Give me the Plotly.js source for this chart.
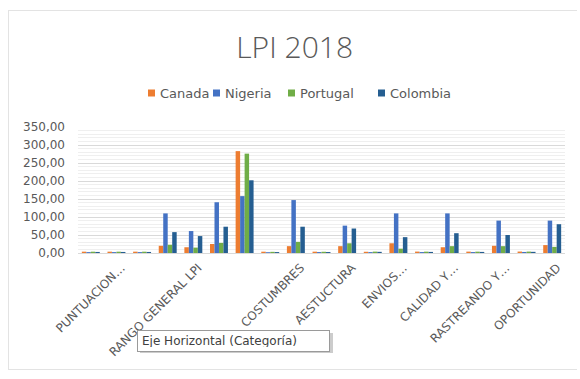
<!DOCTYPE html>
<html>
<head>
<meta charset="utf-8">
<script src="https://cdn.plot.ly/plotly-3.0.1.min.js"></script>
<style>
  html, body { margin: 0; padding: 0; background: #ffffff; }
  #wrap { position: relative; width: 580px; height: 379px; }
  #frame { position: absolute; left: 8px; top: 10px; width: 569px; height: 360px;
           border: 1px solid #e3e3e3; border-right: none; box-sizing: border-box; }
  #chart { position: absolute; left: 0; top: 0; width: 580px; height: 379px; }
</style>
</head>
<body>
<div id="wrap">
  <div id="frame"></div>
  <div id="chart"></div>
</div>
<script>
// Indicators of the LPI 2018 workbook (scores and ranks, in sheet order)
const categorias = [
  "Año", "Puntuación LPI", "Puntuación general", "Rango LPI", "Rango general LPI",
  "Rango aduanas", "Rango total", "Puntuación costumbres", "Costumbres",
  "Puntuación infraestructura", "Infraestructura", "Puntuación envíos",
  "Envíos internacionales", "Puntuación calidad", "Calidad y competencia",
  "Puntuación rastreo", "Rastreando y localizando", "Puntuación oportunidad", "Oportunidad"
];

// Labels printed under the axis ("" = category without a printed label)
const etiquetas = [
  "", "PUNTUACION…", "", "", "RANGO GENERAL LPI",
  "", "", "", "COSTUMBRES",
  "", "AESTUCTURA", "",
  "ENVIOS…", "", "CALIDAD Y…",
  "", "RASTREANDO Y…", "", "OPORTUNIDAD"
];

const canada   = [3.7, 3.7, 3.7, 20, 16, 25, 283, 3.6, 19, 3.7, 19, 3.4, 27, 3.9, 16, 3.8, 20, 4.0, 22];
const nigeria  = [2.5, 2.5, 2.5, 110, 61, 141, 158, 2.2, 147, 2.6, 76, 2.5, 110, 2.6, 110, 2.6, 90, 2.9, 90];
const portugal = [3.6, 3.6, 3.6, 23, 15, 28, 276, 3.2, 31, 3.4, 27, 3.8, 12, 3.7, 19, 3.7, 19, 3.9, 17];
const colombia = [2.9, 2.9, 2.9, 58, 47, 73, 202, 2.6, 73, 2.7, 68, 3.2, 44, 3.0, 55, 3.0, 50, 3.2, 80];

const paises  = ["Canada", "Nigeria", "Portugal", "Colombia"];
const series  = [canada, nigeria, portugal, colombia];
const colores = ["#ED7D31", "#4472C4", "#70AD47", "#255E91"];

// page geometry (pixels) and conversion to paper coordinates
const W = 580, H = 379;
const M = { l: 78, r: 15, t: 127, b: 126 };
const px2x = px => (px - M.l) / (W - M.l - M.r);
const px2y = py => (H - M.b - py) / (H - M.t - M.b);

const FONT = "DejaVu Sans, Open Sans, sans-serif";
const GRIS = "#595959";

const traces = series.map((vals, i) => ({
  type: "bar",
  name: paises[i],
  x: categorias,
  y: vals,
  marker: { color: colores[i] },
  hoverinfo: "x+y+name"
}));

// legend row: small square swatch + country name
const legendSwatchLeft = [148, 213, 288, 378];
const legendTextLeft   = [158, 223, 298, 388];
const legendMidY = 93;

const shapes = [];
const annotations = [];

paises.forEach((p, i) => {
  shapes.push({
    type: "rect", xref: "paper", yref: "paper", layer: "above",
    x0: px2x(legendSwatchLeft[i]), x1: px2x(legendSwatchLeft[i] + 7),
    y0: px2y(legendMidY + 3.5), y1: px2y(legendMidY - 3.5),
    fillcolor: colores[i], line: { width: 0 }
  });
  annotations.push({
    text: p, xref: "paper", yref: "paper",
    x: px2x(legendTextLeft[i]), y: px2y(legendMidY),
    xanchor: "left", yanchor: "middle", showarrow: false,
    font: { family: FONT, size: 13, color: GRIS }
  });
});

// axis tooltip with its drop shadow
shapes.push({
  type: "rect", xref: "paper", yref: "paper", layer: "above",
  x0: px2x(140), x1: px2x(333), y0: px2y(353), y1: px2y(333),
  fillcolor: "rgba(0,0,0,0.2)", line: { width: 0 }
});
annotations.push({
  text: "Eje Horizontal (Categoría)",
  xref: "paper", yref: "paper",
  x: px2x(137), y: px2y(330),
  xanchor: "left", yanchor: "top",
  width: 183, height: 12,
  showarrow: false,
  align: "left",
  font: { family: FONT, size: 12, color: "#404040" },
  bgcolor: "#ffffff",
  bordercolor: "#9a9a9a",
  borderwidth: 1,
  borderpad: 4
});

const layout = {
  width: W, height: H,
  margin: M,
  showlegend: false,
  paper_bgcolor: "rgba(0,0,0,0)",
  plot_bgcolor: "rgba(0,0,0,0)",
  font: { family: FONT, color: GRIS, size: 12 },
  title: {
    text: "LPI 2018",
    font: { family: "Open Sans, DejaVu Sans, sans-serif", size: 30, color: GRIS, weight: 300 },
    x: 0.508, xref: "container", xanchor: "center",
    y: 1 - 47 / H, yref: "container", yanchor: "middle"
  },
  barmode: "group",
  bargap: 0.3,
  bargroupgap: 0,
  xaxis: {
    type: "category",
    categoryorder: "array",
    categoryarray: categorias,
    tickmode: "array",
    tickvals: categorias,
    ticktext: etiquetas,
    tickangle: -45,
    tickfont: { family: FONT, size: 12, color: GRIS },
    ticklabelshift: 5,
    ticklabelstandoff: 2,
    showgrid: false,
    showline: true,
    linecolor: "#d9d9d9",
    ticks: "",
    zeroline: false
  },
  yaxis: {
    range: [0, 350],
    dtick: 50,
    tickformat: ".2f",
    tickfont: { family: FONT, size: 12, color: GRIS },
    showgrid: true,
    gridcolor: "#d9d9d9",
    gridwidth: 1,
    minor: { dtick: 10, showgrid: true, gridcolor: "#efefef", gridwidth: 1 },
    zeroline: false,
    showline: false,
    ticks: "",
    ticklabelstandoff: 12
  },
  separators: ",.",
  shapes: shapes,
  annotations: annotations
};

Plotly.newPlot("chart", traces, layout, { displayModeBar: false, staticPlot: true });
</script>
</body>
</html>
